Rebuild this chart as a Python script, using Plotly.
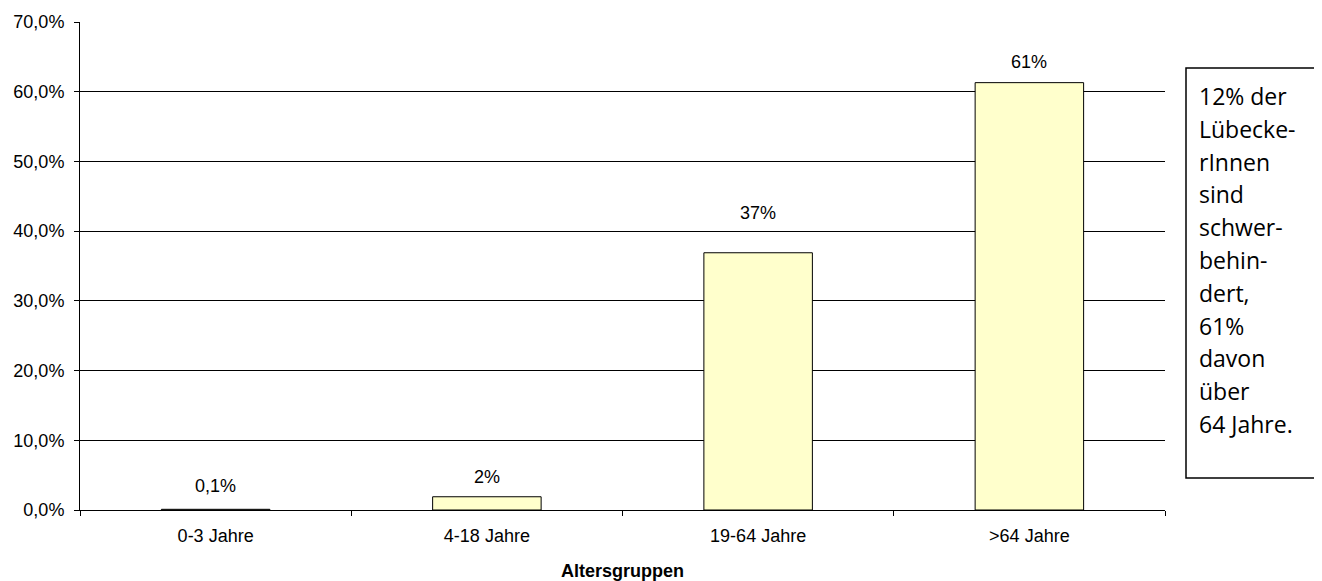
import plotly.graph_objects as go

# Anteil Schwerbehinderter nach Altersgruppen
gruppen = ["0-3 Jahre", "4-18 Jahre", "19-64 Jahre", ">64 Jahre"]
anteile = [0.001, 0.019, 0.369, 0.613]
beschriftung = ["0,1%", "2%", "37%", "61%"]
y_ticks = [0, 0.1, 0.2, 0.3, 0.4, 0.5, 0.6, 0.7]
textbox_zeilen = ["12% der", "Lübecke-", "rInnen", "sind", "schwer-",
                  "behin-", "dert,", "61%", "davon", "über", "64 Jahre."]

FONT = "Arial"
PW, PH = 1085, 488  # Plotfläche in Pixeln


def px_x(x):
    return (x - 80) / PW


def px_y(y):
    return (510 - y) / PH


fig = go.Figure(go.Bar(
    x=gruppen, y=anteile, width=0.4,
    marker=dict(color="#FFFFCC", line=dict(color="black", width=1)),
    hoverinfo="skip",
))

# Datenbeschriftungen über den Balken
label_shift = [11, 8, 28, 9]
for g, v, t, s in zip(gruppen, anteile, beschriftung, label_shift):
    fig.add_annotation(x=g, y=v, text=t, showarrow=False, yanchor="bottom",
                       yshift=s, font=dict(family=FONT, size=18, color="black"))

# Achsentitel
fig.add_annotation(xref="paper", yref="paper", x=0.5, y=px_y(571), text="<b>Altersgruppen</b>",
                   showarrow=False, yanchor="middle",
                   font=dict(family=FONT, size=18, color="black"))

# Textkasten rechts (Seite hat 8px Rand)
fig.add_shape(type="rect", xref="paper", yref="paper",
              x0=px_x(1186), x1=px_x(1319), y0=px_y(478), y1=px_y(68),
              line=dict(color="black", width=1.5), fillcolor="white")
for i, z in enumerate(textbox_zeilen):
    fig.add_annotation(xref="paper", yref="paper", x=px_x(1197),
                       y=px_y(96 + i * 32.8), text=z, showarrow=False,
                       xanchor="left", yanchor="middle",
                       font=dict(family="Open Sans", size=23, color="black"))

fig.update_layout(
    width=1314, height=573,
    margin=dict(l=72, r=157, t=14, b=71, autoexpand=False),
    plot_bgcolor="white", paper_bgcolor="white",
    separators=",.",
    showlegend=False,
    font=dict(family=FONT, size=18, color="black"),
)
fig.update_xaxes(
    tickson="boundaries", ticks="outside", ticklen=5, tickcolor="black",
    showline=True, linecolor="black", linewidth=1, automargin=False,
    ticklabelstandoff=9, tickfont=dict(family=FONT, size=18),
)
fig.update_yaxes(
    range=[0, 0.7], tickvals=y_ticks, tickformat=".1%",
    ticks="outside", ticklen=5, tickcolor="black",
    showline=True, linecolor="black", linewidth=1, automargin=False,
    showgrid=True, gridcolor="black", gridwidth=1, ticklabelstandoff=6,
    zeroline=False, tickfont=dict(family=FONT, size=18),
)

fig.write_html("out.html")
